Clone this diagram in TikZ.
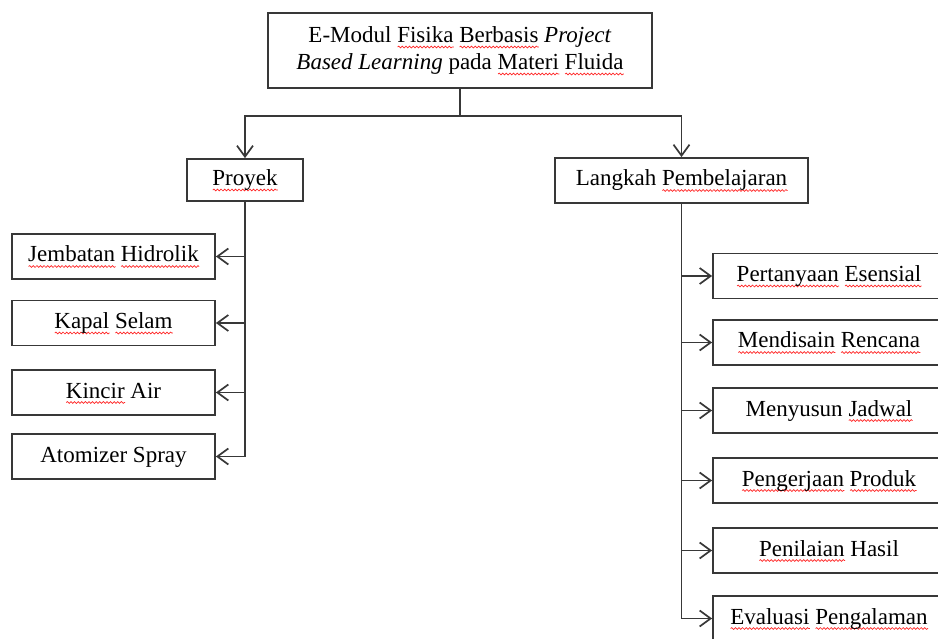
\documentclass[tikz,border=0pt]{standalone}
\usepackage{fontspec}
\setmainfont{Liberation Serif}
\usetikzlibrary{arrows.meta,decorations.pathmorphing}
\newsavebox\sqbox
\newcommand\sq[1]{\sbox\sqbox{#1}\rlap{\smash{\tikz[baseline=0pt,x=1pt,y=1pt]\draw[red!85!white,line width=0.7pt,decorate,decoration={snake,amplitude=0.9pt,segment length=3.6pt}] (0pt,-4.5pt) -- (\the\wd\sqbox,-4.5pt);}}\usebox\sqbox}
\begin{document}
\begin{tikzpicture}[x=1pt,y=-1pt,
  box/.style={draw=black!78, line width=1.8pt, fill=white, inner sep=0pt,
    font=\fontsize{23}{27}\selectfont, text height=16pt, text depth=5pt},
  topbox/.style={draw=black!78, line width=1.8pt, fill=white, inner sep=0pt,
    font=\fontsize{23}{27}\selectfont, align=center},
  lbox/.style={box, minimum width=203pt, minimum height=45pt},
  rbox/.style={box, minimum width=232pt, minimum height=45pt},
  ln/.style={draw=black!78, line width=1.7pt},
  arr/.style={draw=black!78, line width=1.7pt, -{Straight Barb[length=11pt,width=16pt]}}]
\path[use as bounding box] (0,0) rectangle (938,639);
\clip (0,0) rectangle (938,639);

\node[topbox, minimum width=384pt, minimum height=75pt] (top) at (460,50.5)
  {E-Modul \sq{Fisika} \sq{Berbasis} \textit{Project}\\
   \textit{Based Learning} pada \sq{Materi} \sq{Fluida}};

\node[box, minimum width=116pt, minimum height=42pt] (proyek) at (245,180) {\sq{Proyek}};
\node[box, minimum width=253pt, minimum height=45pt] (langkah) at (681.5,180.5) {Langkah \sq{Pembelajaran}};

\node[lbox] (p1) at (113.5,256.5) {\sq{Jembatan} \sq{Hidrolik}};
\node[lbox] (p2) at (113.5,323) {\sq{Kapal} \sq{Selam}};
\node[lbox] (p3) at (113.5,392.5) {\sq{Kincir} Air};
\node[lbox] (p4) at (113.5,456.5) {Atomizer Spray};

\node[rbox] (r1) at (829,276) {\sq{Pertanyaan} \sq{Esensial}};
\node[rbox] (r2) at (829,342.5) {\sq{Mendisain} \sq{Rencana}};
\node[rbox] (r3) at (829,410.5) {Menyusun \sq{Jadwal}};
\node[rbox] (r4) at (829,480.5) {\sq{Pengerjaan} \sq{Produk}};
\node[rbox] (r5) at (829,550.5) {\sq{Penilaian} Hasil};
\node[rbox] (r6) at (829,618.5) {\sq{Evaluasi} \sq{Pengalaman}};

\coordinate (j) at (460,116);
\draw[ln] (top.south) -- (j);
\draw[arr] (j) -| (proyek.north);
\draw[arr] (j) -| (langkah.north);

\draw[arr] (proyek.south) |- (p4.east);
\foreach \n in {p1,p2,p3} \draw[arr] (proyek.south |- \n.east) -- (\n.east);

\draw[arr] (langkah.south) |- (r6.west);
\foreach \n in {r1,r2,r3,r4,r5} \draw[arr] (langkah.south |- \n.west) -- (\n.west);
\end{tikzpicture}
\end{document}
